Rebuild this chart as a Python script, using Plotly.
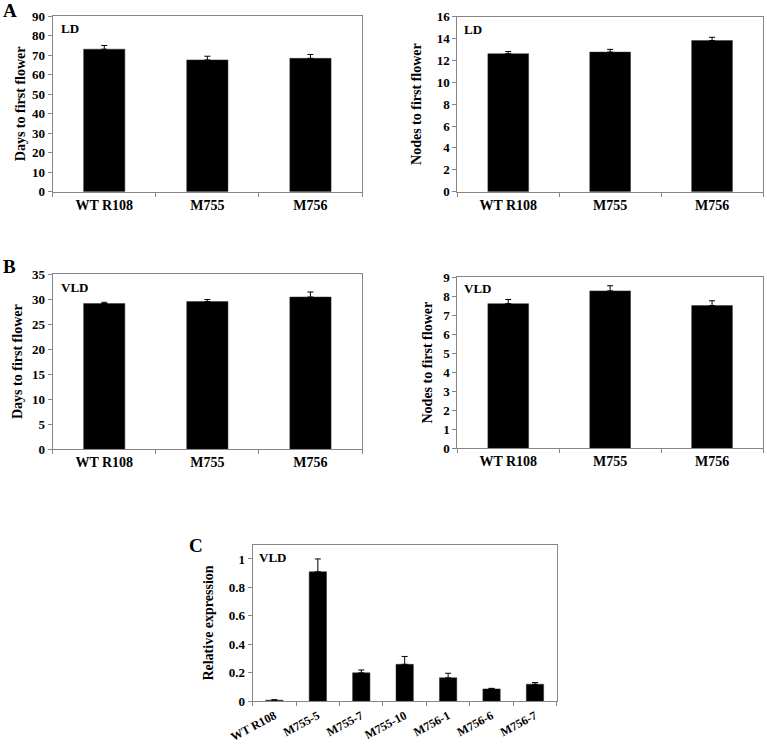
import plotly.graph_objects as go

W, H = 767, 747

# ---- data ----
lines3 = ["WT R108", "M755", "M756"]
ld_days = [73.0, 67.5, 68.3]
ld_days_err = [1.9, 1.9, 2.0]
ld_nodes = [12.6, 12.75, 13.8]
ld_nodes_err = [0.2, 0.25, 0.3]
vld_days = [29.1, 29.5, 30.4]
vld_days_err = [0.25, 0.4, 1.0]
vld_nodes = [7.6, 8.27, 7.5]
vld_nodes_err = [0.22, 0.27, 0.25]
lines7 = ["WT R108", "M755-5", "M755-7", "M755-10", "M756-1", "M756-6", "M756-7"]
expr = [0.008, 0.91, 0.20, 0.26, 0.165, 0.087, 0.12]
expr_err = [0.003, 0.09, 0.02, 0.055, 0.032, 0.004, 0.012]

FONT = "Liberation Serif, Times New Roman, serif"
GRAY = "#868686"


def px_x(v):
    return v / W


def px_y(v):
    return 1 - v / H


panels = [
    # (cats, vals, errs, x px range, y px range, y range, dtick, ytitle, title standoff)
    (lines3, ld_days, ld_days_err, (52.7, 362), (16, 191.7), [0, 90], 10, "Days to first flower", 3),
    (lines3, ld_nodes, ld_nodes_err, (457.3, 763), (16.5, 191.7), [0, 16], 2, "Nodes to first flower", 11),
    (lines3, vld_days, vld_days_err, (52.7, 362), (274, 449.3), [0, 35], 5, "Days to first flower", 6),
    (lines3, vld_nodes, vld_nodes_err, (457.3, 763), (277, 448.3), [0, 9], 1, "Nodes to first flower", 7),
    (lines7, expr, expr_err, (252.7, 556.7), (544.7, 701.3), [0, 1.1], 0.2, "Relative expression", 11),
]

fig = go.Figure()
layout = {}
for i, (cats, vals, errs, xr, yr, rng, dt, ytitle, so) in enumerate(panels, start=1):
    sx = "" if i == 1 else str(i)
    fig.add_trace(go.Bar(
        x=cats, y=vals,
        marker=dict(color="black", line=dict(color="#333333", width=0.5)),
        error_y=dict(type="data", array=errs, arrayminus=[0] * len(errs), symmetric=False,
                     color="black", thickness=1, width=3),
        xaxis="x" + sx, yaxis="y" + sx, showlegend=False,
    ))
    small = len(cats) > 3
    layout["xaxis" + sx] = dict(
        domain=[px_x(xr[0]), px_x(xr[1])], anchor="y" + sx, type="category",
        showline=True, linecolor=GRAY, linewidth=1, mirror=True,
        ticks="outside", tickson="boundaries", ticklen=4, tickcolor=GRAY,
        tickangle=-28 if small else 0,
        ticklabelstandoff=2 if small else 0,
        tickfont=dict(family=FONT, size=12 if small else 14, color="black", weight="bold"),
        showgrid=False, zeroline=False,
    )
    layout["yaxis" + sx] = dict(
        domain=[px_y(yr[1]), px_y(yr[0])], anchor="x" + sx, range=rng, dtick=dt, tick0=0,
        showline=True, linecolor=GRAY, linewidth=1, mirror=True,
        ticks="outside", ticklen=4, tickcolor=GRAY,
        tickfont=dict(family=FONT, size=13, color="black", weight="bold"),
        showgrid=False, zeroline=False,
        title=dict(text=ytitle, font=dict(family=FONT, size=14, color="black", weight="bold"), standoff=so),
    )

annots = []
def add_text(text, x, y, size, xanchor="left"):
    annots.append(dict(text=text, x=px_x(x), y=px_y(y), xref="paper", yref="paper",
                       xanchor=xanchor, yanchor="middle", showarrow=False,
                       font=dict(family=FONT, size=size, color="black", weight="bold")))

add_text("A", 1, 11, 19)
add_text("B", 1, 266, 19)
add_text("C", 187, 545, 19)
add_text("LD", 59, 28, 13)
add_text("LD", 462, 29, 13)
add_text("VLD", 59, 287, 13)
add_text("VLD", 462, 288, 13)
add_text("VLD", 257, 557, 13)

fig.update_layout(
    width=W, height=H, margin=dict(l=0, r=0, t=0, b=0),
    template="none", paper_bgcolor="white", plot_bgcolor="white",
    bargap=0.6, annotations=annots, **layout,
)

fig.write_html("out.html", config={"displayModeBar": False},
               post_script="document.body.style.margin='0';document.body.style.overflow='hidden';")
